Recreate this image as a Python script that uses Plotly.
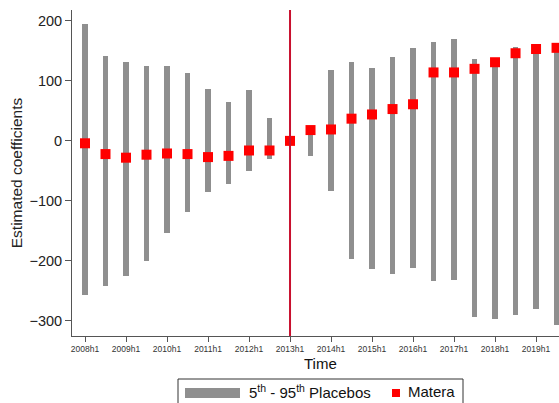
import plotly.graph_objects as go

periods = [f"{y}h{h}" for y in range(2008, 2020) for h in (1, 2)]
placebo_high = [195, 142, 132, 124, 124, 113, 86, 64, 84, 38, 2, 18,
                118, 132, 121, 139, 155, 165, 170, 136, 138, 156, 155, 158]
placebo_low = [-257, -242, -225, -200, -154, -118, -85, -71, -50, -31, -2, -26,
               -83, -197, -214, -222, -212, -233, -232, -294, -297, -290, -280, -307]
matera = [-4, -22, -28, -23, -21, -22, -27, -25, -16, -16, 0, 18,
          19, 37, 44, 53, 61, 114, 114, 120, 131, 146, 153, 155]
tick_labels = [f"{y}h1" for y in range(2008, 2020)]
treatment_period = "2013h1"

idx = list(range(len(periods)))
tick_idx = [periods.index(t) for t in tick_labels]
treat_idx = periods.index(treatment_period)

FONT = "Liberation Sans, Arial, sans-serif"

fig = go.Figure()
fig.add_trace(go.Bar(
    x=idx, base=placebo_low,
    y=[h - l for h, l in zip(placebo_high, placebo_low)],
    width=0.25, marker=dict(color="#8f8f8f", line=dict(width=0)),
    showlegend=False, hoverinfo="skip"))
fig.add_trace(go.Scatter(
    x=idx, y=matera, mode="markers",
    marker=dict(symbol="square", size=10, color="#ff0000"),
    showlegend=False))

fig.add_shape(type="line", xref="x", yref="paper", x0=treat_idx, x1=treat_idx,
              y0=0, y1=1, line=dict(color="#c8102e", width=2))

# page-pixel helpers (plot area spans page x 72..559, y 10..336)
def px_x(p):
    return (p - 72) / 487.0

def px_y(p):
    return (336 - p) / 326.0

fig.add_shape(type="rect", xref="paper", yref="paper",
              x0=px_x(178), x1=px_x(463), y0=px_y(379), y1=px_y(415),
              line=dict(color="#333333", width=1), fillcolor="white")
fig.add_shape(type="rect", xref="paper", yref="paper",
              x0=px_x(185), x1=px_x(240), y0=px_y(388), y1=px_y(398),
              line=dict(width=0), fillcolor="#8f8f8f")
fig.add_shape(type="rect", xref="paper", yref="paper",
              x0=px_x(392), x1=px_x(400), y0=px_y(389), y1=px_y(397),
              line=dict(width=0), fillcolor="#ff0000")
fig.add_annotation(xref="paper", yref="paper", x=px_x(247), y=px_y(391),
                   xanchor="left", yanchor="middle", showarrow=False,
                   text="5<sup>th</sup> - 95<sup>th</sup> Placebos",
                   font=dict(family=FONT, size=15, color="#111111"))
fig.add_annotation(xref="paper", yref="paper", x=px_x(406), y=px_y(392),
                   xanchor="left", yanchor="middle", showarrow=False,
                   text="Matera", font=dict(family=FONT, size=15, color="#111111"))
fig.add_annotation(xref="paper", yref="paper", x=px_x(320), y=px_y(363),
                   xanchor="center", yanchor="middle", showarrow=False,
                   text="Time", font=dict(family=FONT, size=15, color="#111111"))

fig.update_layout(
    width=559, height=403,
    margin=dict(l=72, r=0, t=10, b=67, autoexpand=False),
    plot_bgcolor="white", paper_bgcolor="white",
    font=dict(family=FONT, color="#222222"),
    bargap=0,
)
fig.update_xaxes(
    range=[-0.634, 23.12], tickvals=tick_idx, ticktext=tick_labels,
    tickfont=dict(size=8.5, color="#333333"), ticks="outside", ticklen=5,
    tickcolor="#555555", showgrid=False, zeroline=False, automargin=False,
    showline=True, linecolor="#555555", linewidth=1)
fig.update_yaxes(
    range=[-325, 218], tickvals=[-300, -200, -100, 0, 100, 200],
    tickfont=dict(size=14.5, color="#222222"), ticks="outside", ticklen=6,
    tickcolor="#555555", showgrid=False, zeroline=False, automargin=False,
    showline=True, linecolor="#555555", linewidth=1,
    title=dict(text="Estimated coefficients", font=dict(size=15.5, color="#222222"),
               standoff=3))

fig.write_html(
    "out.html",
    config={"displayModeBar": False},
    post_script="document.body.style.margin='0';document.body.style.overflow='hidden';",
)
